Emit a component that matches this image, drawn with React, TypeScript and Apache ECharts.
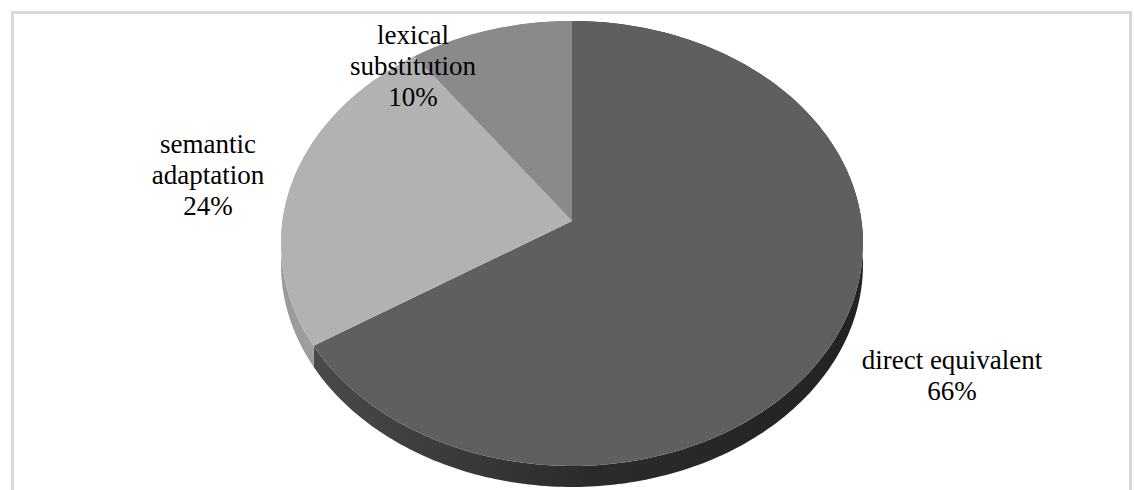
import React, { useEffect, useRef } from "react";
import * as echarts from "echarts";

const CATEGORIES = ["direct equivalent", "semantic adaptation", "lexical substitution"];
const VALUES = [66, 24, 10];

const TOP_COLORS = ["#5f5f5f", "#b2b2b2", "#8a8a8a"];
const SIDE_COLORS = [
  ["#4a4a4a", "#2b2b2b", "#222222"],
  ["#9a9a9a", "#a2a2a2", "#a8a8a8"],
  ["#7a7a7a", "#7a7a7a", "#7a7a7a"],
];
const LABEL_POS = [
  [952, 375],
  [208, 175],
  [413, 66],
];
const LABEL_WRAP = [false, true, true];

// perspective projection of the pie disc
const X0 = 572;
const Y0 = 221;
const AX = 289.5;
const BY = 220.2;
const K = 0.1011;
const DEPTH = 21;

function proj(theta: number, dy: number): number[] {
  const u = Math.sin(theta);
  const v = Math.cos(theta);
  const s = 1 + K * v;
  return [X0 + (AX * u) / s, Y0 - (BY * v) / s + dy];
}

function arcPoints(t1: number, t2: number, dy: number): number[][] {
  const pts: number[][] = [];
  const n = Math.max(2, Math.ceil(((t2 - t1) * 180) / Math.PI));
  for (let i = 0; i <= n; i++) {
    pts.push(proj(t1 + ((t2 - t1) * i) / n, dy));
  }
  return pts;
}

export default function App() {
  const ref = useRef<HTMLDivElement>(null);
  useEffect(() => {
    if (!ref.current) return;
    const chart = echarts.init(ref.current, null, { renderer: "svg" });
    const total = VALUES.reduce((a, b) => a + b, 0);
    const cum: number[] = [];
    let acc = 0;
    VALUES.forEach((v) => {
      cum.push(acc);
      acc += v;
    });
    chart.setOption({
      animation: false,
      backgroundColor: "#ffffff",
      textStyle: { fontFamily: "'Liberation Serif', 'Times New Roman', serif" },
      graphic: [
        {
          type: "rect",
          shape: { x: 12.5, y: 12.5, width: 1118, height: 520 },
          style: { fill: "none", stroke: "#d9d9d9", lineWidth: 3 },
          silent: true,
        },
      ],
      series: [
        {
          type: "custom",
          coordinateSystem: "none",
          data: CATEGORIES.map((c, i) => ({ name: c, value: VALUES[i] })),
          renderItem: (params: any, api: any) => {
            const i = params.dataIndex;
            const v = api.value(0);
            const t1 = (cum[i] / total) * Math.PI * 2;
            const t2 = ((cum[i] + v) / total) * Math.PI * 2;
            const top = arcPoints(t1, t2, 0);
            const bottom = arcPoints(t1, t2, DEPTH).reverse();
            const sc = SIDE_COLORS[i];
            const pct = Math.round((v / total) * 100) + "%";
            const name = LABEL_WRAP[i] ? CATEGORIES[i].replace(" ", "\n") : CATEGORIES[i];
            return {
              type: "group",
              children: [
                {
                  type: "polygon",
                  z2: 1,
                  shape: { points: top.concat(bottom) },
                  style: {
                    fill: new echarts.graphic.LinearGradient(0, 0, 1, 0, [
                      { offset: 0, color: sc[0] },
                      { offset: 0.5, color: sc[1] },
                      { offset: 1, color: sc[2] },
                    ]),
                  },
                },
                {
                  type: "polygon",
                  z2: 5,
                  shape: { points: [[X0, Y0]].concat(top) },
                  style: { fill: TOP_COLORS[i] },
                },
                {
                  type: "text",
                  z2: 10,
                  x: LABEL_POS[i][0],
                  y: LABEL_POS[i][1],
                  style: {
                    text: name + "\n" + pct,
                    font: "27px 'Liberation Serif', 'Times New Roman', serif",
                    fontSize: 27,
                    fontFamily: "'Liberation Serif', 'Times New Roman', serif",
                    fill: "#000000",
                    align: "center",
                    verticalAlign: "middle",
                    lineHeight: 31,
                  },
                },
              ],
            };
          },
        },
      ],
    });
    return () => chart.dispose();
  }, []);
  return (
    <div
      ref={ref}
      style={{ position: "absolute", left: 0, top: 0, width: 1134, height: 490 }}
    />
  );
}
